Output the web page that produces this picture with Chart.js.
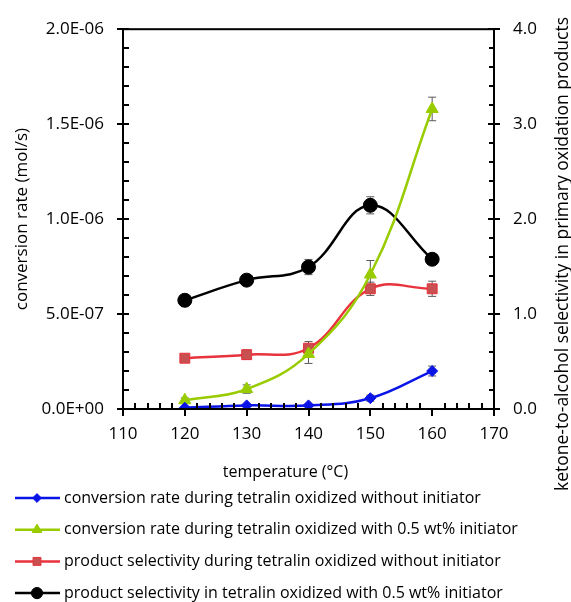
<!doctype html>
<html lang="en">
  <head>
    <meta charset="utf-8">
    <style>
      html, body { margin: 0; padding: 0; background: #fff; }
      #chart { display: block; }
    </style>
  </head>
  <body>
    <canvas id="chart" width="571" height="602"></canvas>

    <script src="https://cdn.jsdelivr.net/npm/chart.js@4.4.0/dist/chart.umd.min.js"></script>
    <script>
      // temperatures (degC)
      const temps = [120, 130, 140, 150, 160];
      // conversion rate (mol/s), left axis
      const rateNoInit = [0.6e-8, 1.9e-8, 1.9e-8, 5.7e-8, 2.0e-7];
      const rateNoInitErr = [0.3e-8, 0.4e-8, 0.4e-8, 1.6e-8, 2.6e-8];
      const rateInit = [4.6e-8, 1.05e-7, 2.9e-7, 7.08e-7, 1.58e-6];
      const rateInitErr = [1.2e-8, 2.2e-8, 5.0e-8, 7.4e-8, 6.2e-8];
      // ketone-to-alcohol selectivity, right axis
      const selNoInit = [0.535, 0.572, 0.64, 1.266, 1.266];
      const selNoInitErr = [0.02, 0.05, 0.07, 0.07, 0.08];
      const selInit = [1.145, 1.357, 1.495, 2.145, 1.577];
      const selInitErr = [0.06, 0.055, 0.08, 0.09, 0.02];

      const seriesLabels = [
        "conversion rate during tetralin oxidized without initiator",
        "conversion rate during tetralin oxidized with 0.5 wt% initiator",
        "product selectivity during tetralin oxidized without initiator",
        "product selectivity in tetralin oxidized with 0.5 wt% initiator"
      ];
      const xTitle = "temperature (\u00B0C)";
      const yTitle = "conversion rate (mol/s)";
      const y1Title = "ketone-to-alcohol selectivity in primary oxidation products";

      const FONT = "'Open Sans', 'DejaVu Sans', sans-serif";

      function pts(vals) {
        return temps.map((t, i) => ({ x: t, y: vals[i] }));
      }

      // 2.0E-06 style labels
      function sci(v) {
        const s = Number(v).toExponential(1).split("e");
        const n = parseInt(s[1], 10);
        return s[0] + "E" + (n < 0 ? "-" : "+") + String(Math.abs(n)).padStart(2, "0");
      }

      // error bars, drawn under the markers
      const errorBars = {
        id: "errorBars",
        beforeDatasetsDraw(chart) {
          const ctx = chart.ctx;
          ctx.save();
          ctx.strokeStyle = "#5a5a5a";
          ctx.lineWidth = 1;
          chart.data.datasets.forEach((ds, i) => {
            if (!ds.errors) return;
            const meta = chart.getDatasetMeta(i);
            const sc = chart.scales[ds.yAxisID];
            meta.data.forEach((pt, j) => {
              const v = ds.data[j].y, e = ds.errors[j];
              const top = sc.getPixelForValue(v + e);
              const bot = sc.getPixelForValue(v - e);
              ctx.beginPath();
              ctx.moveTo(pt.x, top); ctx.lineTo(pt.x, bot);
              ctx.moveTo(pt.x - 4, top); ctx.lineTo(pt.x + 4, top);
              ctx.moveTo(pt.x - 4, bot); ctx.lineTo(pt.x + 4, bot);
              ctx.stroke();
            });
          });
          ctx.restore();
        }
      };

      // frame, major/minor tick marks, titles and the legend
      const decor = {
        id: "decor",
        afterDraw(chart) {
          const { ctx, chartArea: a, scales } = chart;
          const x = scales.x, y = scales.y;
          ctx.save();
          ctx.strokeStyle = "#000";
          ctx.lineWidth = 2;
          ctx.strokeRect(a.left, a.top, a.right - a.left, a.bottom - a.top);

          ctx.beginPath();
          for (let v = 110; v <= 170; v += 2) {
            const px = Math.round(x.getPixelForValue(v));
            if (v % 10 === 0) { ctx.moveTo(px, a.bottom); ctx.lineTo(px, a.bottom + 7); }
            else { ctx.moveTo(px, a.bottom); ctx.lineTo(px, a.bottom - 6); }
          }
          for (let i = 0; i <= 20; i++) {
            const py = Math.round(y.getPixelForValue(i * 1e-7));
            if (i % 5 === 0) {
              ctx.moveTo(a.left - 6, py); ctx.lineTo(a.left + 6, py);
              ctx.moveTo(a.right - 6, py); ctx.lineTo(a.right + 6, py);
            } else {
              ctx.moveTo(a.left, py); ctx.lineTo(a.left + 6, py);
              ctx.moveTo(a.right, py); ctx.lineTo(a.right - 5, py);
            }
          }
          ctx.stroke();

          ctx.fillStyle = "#000";
          ctx.font = "16px " + FONT;
          ctx.textAlign = "center";
          ctx.textBaseline = "middle";
          ctx.fillText(xTitle, chart.width / 2, 472);

          ctx.save();
          ctx.font = "17.5px " + FONT;
          ctx.translate(563, 254);
          ctx.rotate(-Math.PI / 2);
          ctx.fillText(y1Title, 0, 0);
          ctx.restore();

          // legend
          ctx.textAlign = "left";
          ctx.font = "16px " + FONT;
          chart.data.datasets.forEach((ds, i) => {
            const ry = 498 + i * 31.7;
            ctx.strokeStyle = ds.borderColor;
            ctx.lineWidth = 2.5;
            ctx.beginPath();
            ctx.moveTo(15, ry); ctx.lineTo(60, ry);
            ctx.stroke();
            ctx.fillStyle = ds.pointBackgroundColor;
            ctx.strokeStyle = ds.pointBorderColor;
            ctx.lineWidth = 1;
            Chart.helpers.drawPoint(ctx, {
              pointStyle: ds.pointStyle, radius: ds.pointRadius * 0.8,
              rotation: 0, borderWidth: 1
            }, 37, ry);
            ctx.fillStyle = "#000";
            ctx.fillText(ds.label, 64, ry);
          });
          ctx.restore();
        }
      };

      new Chart(document.getElementById("chart"), {
        type: "line",
        plugins: [errorBars, decor],
        data: {
          datasets: [
            {
              label: seriesLabels[0], data: pts(rateNoInit), errors: rateNoInitErr, yAxisID: "y",
              borderColor: "#0a14e6", pointBackgroundColor: "#0a14e6", pointBorderColor: "#0a14e6",
              pointStyle: "rectRot", pointRadius: 5.5
            },
            {
              label: seriesLabels[1], data: pts(rateInit), errors: rateInitErr, yAxisID: "y",
              borderColor: "#99cc00", pointBackgroundColor: "#99cc00", pointBorderColor: "#99cc00",
              pointStyle: "triangle", pointRadius: 7
            },
            {
              label: seriesLabels[2], data: pts(selNoInit), errors: selNoInitErr, yAxisID: "y1",
              borderColor: "#e8323c", pointBackgroundColor: "#c85050", pointBorderColor: "#e8323c",
              pointStyle: "rect", pointRadius: 7
            },
            {
              label: seriesLabels[3], data: pts(selInit), errors: selInitErr, yAxisID: "y1",
              borderColor: "#000000", pointBackgroundColor: "#000000", pointBorderColor: "#000000",
              pointStyle: "circle", pointRadius: 7
            }
          ]
        },
        options: {
          responsive: false,
          animation: false,
          devicePixelRatio: 1,
          layout: { padding: { top: 21, left: 0, right: 0, bottom: 0 } },
          elements: {
            line: { borderWidth: 2.5, tension: 0.4, fill: false },
            point: { borderWidth: 1, hoverRadius: 7 }
          },
          plugins: {
            legend: { display: false },
            tooltip: { enabled: false }
          },
          scales: {
            x: {
              type: "linear", min: 110, max: 170,
              grid: { display: false, drawTicks: false },
              border: { display: false },
              ticks: { stepSize: 10, padding: 15, color: "#000", font: { family: FONT, size: 17 } },
              afterFit(s) { s.height = 602 - 409; }
            },
            y: {
              position: "left", min: 0, max: 2e-6,
              grid: { display: false, drawTicks: false },
              border: { display: false },
              ticks: { stepSize: 5e-7, padding: 19, color: "#000", font: { family: FONT, size: 17 }, callback: sci },
              title: { display: true, text: yTitle, color: "#000", font: { family: FONT, size: 17 }, padding: { top: 12, bottom: 0 } },
              afterFit(s) { s.width = 123; }
            },
            y1: {
              position: "right", min: 0, max: 4,
              grid: { display: false, drawTicks: false },
              border: { display: false },
              ticks: { stepSize: 1, padding: 19, color: "#000", font: { family: FONT, size: 17 }, callback: v => Number(v).toFixed(1) },
              afterFit(s) { s.width = 571 - 494; }
            }
          }
        }
      });
    </script>
  </body>
</html>
